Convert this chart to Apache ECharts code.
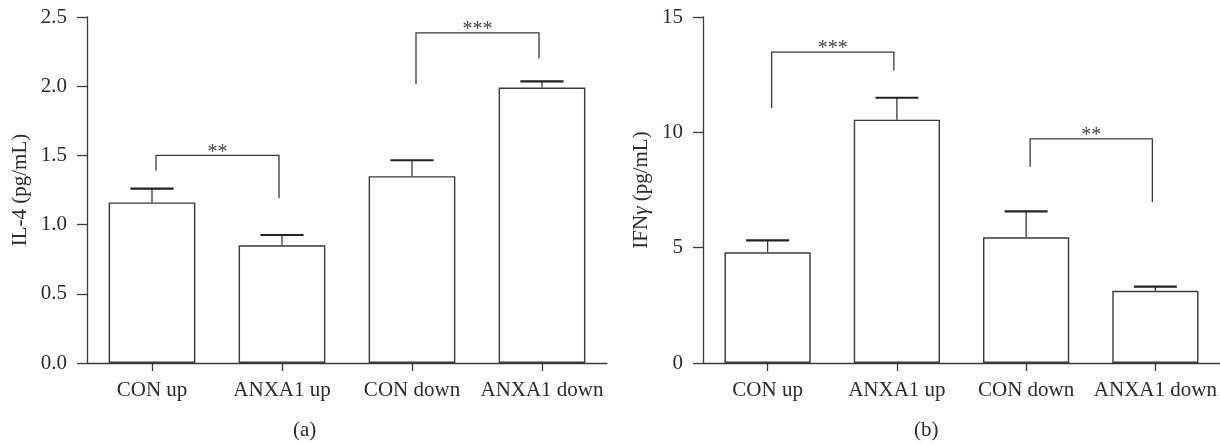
<!DOCTYPE html>
<html>
<head>
<meta charset="utf-8">
<script src="https://cdn.jsdelivr.net/npm/echarts@6/dist/echarts.min.js"></script>
<style>
html,body{margin:0;padding:0;background:#fff;}
#c{width:1220px;height:445px;}
</style>
</head>
<body>
<div id="c"></div>
<script>
// ---- data ----
const categories = ['CON up', 'ANXA1 up', 'CON down', 'ANXA1 down'];
const il4Mean = [1.16, 0.85, 1.35, 1.99];
const il4Sem = [0.10, 0.075, 0.115, 0.045];
const ifnMean = [4.8, 10.55, 5.45, 3.13];
const ifnSem = [0.52, 0.95, 1.12, 0.18];
const il4Ticks = [0, 0.5, 1.0, 1.5, 2.0, 2.5];
const ifnTicks = [0, 5, 10, 15];
// brackets: [fromIndex, toIndex, barY, leftLegEnd, rightLegEnd]
const il4Brackets = [[0, 1, 1.5, 1.39, 1.19], [2, 3, 2.385, 2.015, 2.2]];
const il4Stars = ['**', '***'];
const ifnBrackets = [[0, 1, 13.48, 11.05, 12.68], [2, 3, 9.72, 8.5, 6.98]];
const ifnStars = ['***', '**'];
const panelLabels = ['(a)', '(b)'];

const FONT = '"Liberation Serif", "DejaVu Serif", serif';
const TXT = '#2b2b2b';
const LINE = '#3a3a3a';
const FS = 21;

const chart = echarts.init(document.getElementById('c'), null, {renderer: 'canvas'});

function errData(mean, sem) {
  return mean.map((m, i) => [i, m, m + sem[i]]);
}

function errSeries(idx, mean, sem) {
  return {
    type: 'custom', xAxisIndex: idx, yAxisIndex: idx, z: 3,
    data: errData(mean, sem),
    renderItem: function (params, api) {
      const base = api.coord([api.value(0), api.value(1)]);
      const top = api.coord([api.value(0), api.value(2)]);
      const band = api.size([1, 0])[0];
      const half = band * 0.166;
      return {
        type: 'group',
        children: [
          {type: 'line', shape: {x1: base[0], y1: base[1], x2: top[0], y2: top[1]},
           style: {stroke: LINE, lineWidth: 1.3}},
          {type: 'line', shape: {x1: top[0] - half, y1: top[1], x2: top[0] + half, y2: top[1]},
           style: {stroke: '#222', lineWidth: 2.2}}
        ]
      };
    }
  };
}

function bracketSeries(idx, brackets, stars) {
  return {
    type: 'custom', xAxisIndex: idx, yAxisIndex: idx, z: 4,
    data: brackets,
    renderItem: function (params, api) {
      const l = api.coord([api.value(0), api.value(2)]);
      const r = api.coord([api.value(1), api.value(2)]);
      const lb = api.coord([api.value(0), api.value(3)]);
      const rb = api.coord([api.value(1), api.value(4)]);
      const xl = l[0] + 4, xr = r[0] - 3;
      return {
        type: 'group',
        children: [
          {type: 'polyline', shape: {points: [[xl, lb[1]], [xl, l[1]], [xr, r[1]], [xr, rb[1]]]},
           style: {stroke: LINE, lineWidth: 1.3, fill: null}},
          {type: 'text', style: {text: stars[params.dataIndex], x: (xl + xr) / 2, y: l[1] - 3,
            align: 'center', verticalAlign: 'middle', fill: '#444', font: '20px ' + FONT}}
        ]
      };
    }
  };
}

function yAxis(idx, ticks, name, fmt, gap, rich) {
  return {
    type: 'value', gridIndex: idx, min: ticks[0], max: ticks[ticks.length - 1],
    interval: ticks[1] - ticks[0],
    name: name, nameLocation: 'middle', nameGap: gap,
    nameTextStyle: {fontFamily: FONT, fontSize: FS, color: TXT, rich: rich},
    axisLine: {show: true, lineStyle: {color: LINE, width: 1.3}},
    axisTick: {show: true, length: 10, lineStyle: {color: LINE, width: 1.3}},
    axisLabel: {margin: 20, fontFamily: FONT, fontSize: FS, color: TXT, formatter: fmt},
    splitLine: {show: false}
  };
}

function xAxis(idx) {
  return {
    type: 'category', gridIndex: idx, data: categories,
    axisLine: {show: true, lineStyle: {color: LINE, width: 1.3}},
    axisTick: {show: true, alignWithLabel: true, length: 8, lineStyle: {color: LINE, width: 1.3}},
    axisLabel: {margin: 17, fontFamily: FONT, fontSize: FS, color: TXT, interval: 0}
  };
}

function barSeries(idx, mean) {
  return {
    type: 'bar', xAxisIndex: idx, yAxisIndex: idx, data: mean, barWidth: '66.7%', z: 2,
    itemStyle: {color: '#fff', borderColor: LINE, borderWidth: 1.4},
    silent: true
  };
}

chart.setOption({
  animation: false,
  backgroundColor: '#fff',
  grid: [
    {left: 87, top: 17, width: 520, height: 346},
    {left: 703, top: 17, width: 520, height: 346}
  ],
  xAxis: [xAxis(0), xAxis(1)],
  yAxis: [
    yAxis(0, il4Ticks, 'IL-4 (pg/mL)', v => v.toFixed(1), 56),
    yAxis(1, ifnTicks, 'IFN{g|γ} (pg/mL)', v => String(v), 51,
      {g: {fontFamily: FONT, fontSize: FS, color: TXT, fontStyle: 'italic'}})
  ],
  graphic: [
    {type: 'text', left: 293, top: 420, style: {text: panelLabels[0], font: FS + 'px ' + FONT, fill: TXT}},
    {type: 'text', left: 914, top: 420, style: {text: panelLabels[1], font: FS + 'px ' + FONT, fill: TXT}}
  ],
  series: [
    barSeries(0, il4Mean), errSeries(0, il4Mean, il4Sem), bracketSeries(0, il4Brackets, il4Stars),
    barSeries(1, ifnMean), errSeries(1, ifnMean, ifnSem), bracketSeries(1, ifnBrackets, ifnStars)
  ]
});
</script>
</body>
</html>
